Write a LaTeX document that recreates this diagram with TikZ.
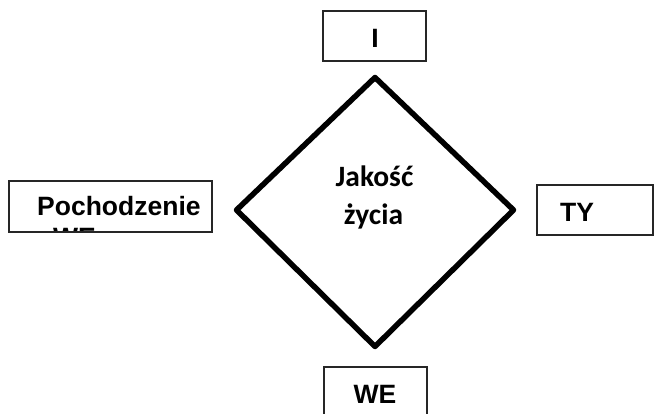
\documentclass[tikz,border=0pt]{standalone}
\usepackage{fontspec}
\setmainfont{Liberation Sans}
\newfontfamily\calfam{Carlito}
\begin{document}
\begin{tikzpicture}[x=1pt,y=-1pt,
  box/.style={draw=black!85,line width=1.5pt},
  lbl/.style={inner sep=0pt,font=\fontsize{26.5}{31}\selectfont\bfseries},
  core/.style={inner sep=0pt,font=\calfam\fontsize{29.5}{35}\selectfont\bfseries}]
\useasboundingbox (0,0) rectangle (654,414);
\fill[white] (0,0) rectangle (654,414);

% central diamond
\draw[line width=5.5pt,line join=round]
  (375,77.5) coordinate (dt) -- (513.5,210) coordinate (dr)
  -- (375,346.5) coordinate (db) -- (236.5,210) coordinate (dl) -- cycle;
\node[core,anchor=base] (q1) at (374.5,187) {Jakość};
\node[core,anchor=base] (q2) at (373.5,225) {życia};

% top box
\draw[box] (323,11) rectangle (426,61);
\node[lbl,anchor=base] (ti) at (375,48) {I};

% bottom box
\draw[box] (324,367) rectangle (427,418);
\node[lbl,anchor=base] (bwe) at (375,403) {WE};

% right box
\draw[box] (537,185) rectangle (653,235);
\node[lbl,anchor=base west] (ty) at (560,222) {TY};

% left box, text clipped at its frame
\begin{scope}
  \clip (9,181) rectangle (212,232);
  \node[lbl,anchor=base west] (poch) at (37,216) {Pochodzenie};
  \node[lbl,anchor=base west] (pwe) at (53,247) {WE};
\end{scope}
\draw[box] (9,181) rectangle (212,232);
\end{tikzpicture}
\end{document}
